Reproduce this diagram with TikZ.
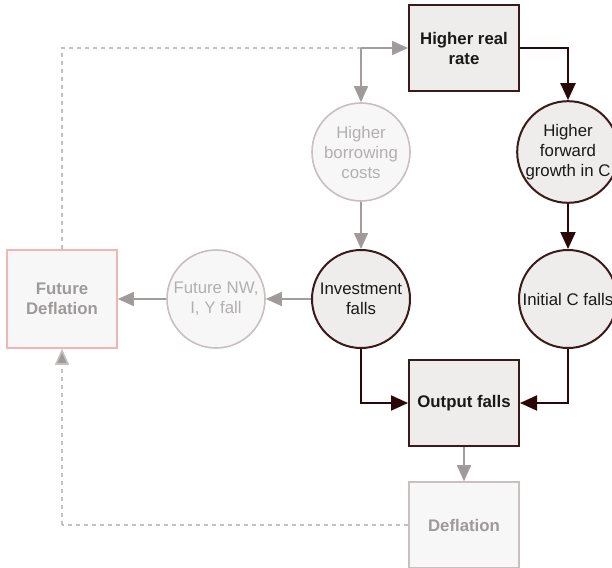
\documentclass[tikz,border=0pt]{standalone}
\usepackage{fontspec}
\setmainfont{Liberation Sans}
\usetikzlibrary{arrows.meta}

\definecolor{darkline}{HTML}{3A1A1A}
\definecolor{darkarrow}{HTML}{2A0808}
\definecolor{boxfill}{HTML}{EFEDEC}
\definecolor{palefill}{HTML}{F8F7F7}
\definecolor{paleline}{HTML}{C9BFBF}
\definecolor{paletext}{HTML}{B3AFAF}
\definecolor{grayarrow}{HTML}{A39C9C}
\definecolor{graytip}{HTML}{9E9A9A}
\definecolor{pinkline}{HTML}{F3B4B4}
\definecolor{dashgray}{HTML}{C4C0C0}

\tikzset{
  every node/.style={font=\fontsize{16.8}{20}\selectfont, align=center},
  keybox/.style={draw=darkline, line width=2pt, fill=boxfill, minimum width=110pt,
    minimum height=86pt, inner sep=0pt, font=\fontsize{16.8}{20}\selectfont\bfseries, text=black!90},
  keycirc/.style={circle, draw=darkline, line width=2pt, fill=boxfill, minimum size=98pt,
    inner sep=0pt, text=black!90},
  palecirc/.style={circle, draw=paleline, line width=1.6pt, fill=palefill, minimum size=98pt,
    inner sep=0pt, text=paletext},
  palebox/.style={draw=paleline, line width=1.6pt, fill=palefill, minimum width=110pt,
    minimum height=86pt, inner sep=0pt, font=\fontsize{16.8}{20}\selectfont\bfseries, text=graytip},
  darkflow/.style={draw=darkarrow, line width=2pt,
    -{Triangle[length=17pt,width=15pt]}},
  graytipstyle/.style={-{Triangle[length=16pt,width=14pt,fill=graytip]}},
  grayflow/.style={draw=grayarrow, line width=1.6pt, graytipstyle},
  feedback/.style={draw=dashgray, line width=1.6pt, dash pattern=on 4pt off 4pt},
}

\begin{document}
\begin{tikzpicture}[x=1pt, y=-1pt]
  \useasboundingbox (0,0) rectangle (612,567);

  % main chain
  \node[keybox] (rate) at (464,48) {Higher real\\rate};
  \node[keycirc] (fwd) at (568,152) {Higher\\forward\\growth in C};
  \node[keycirc] (initc) at (568,299) {Initial C falls};
  \node[keycirc] (invest) at (361,299) {Investment\\falls};
  \node[keybox] (output) at (464,403) {Output falls};

  % faded side effects
  \node[palecirc] (borrow) at (361,152) {Higher\\borrowing\\costs};
  \node[palecirc] (fnw) at (216,299) {Future NW,\\I, Y fall};
  \node[palebox, draw=pinkline, minimum height=98pt] (fdef) at (62,299) {Future\\Deflation};
  \node[palebox] (defl) at (464,525) {Deflation};

  \coordinate (split) at (361,48);
  \coordinate (lowcorner) at (62,525);

  % feedback loops (dashed)
  \draw[feedback] (fdef.north) |- (split);
  \draw[feedback] (defl.west) -- (lowcorner);
  \draw[feedback, graytipstyle] (lowcorner) -- (fdef.south);

  % faded arrows
  \draw[grayflow] (split) -- (rate.west);
  \draw[grayflow] (split) -- (borrow.north);
  \draw[grayflow] (borrow.south) -- (invest.north);
  \draw[grayflow] (invest.west) -- (fnw.east);
  \draw[grayflow] (fnw.west) -- (fdef.east);
  \draw[grayflow] (output.south) -- (defl.north);

  % main arrows
  \draw[darkflow] (rate.east) -| (fwd.north);
  \draw[darkflow] (fwd.south) -- (initc.north);
  \draw[darkflow] (invest.south) |- (output.west);
  \draw[darkflow] (initc.south) |- (output.east);
\end{tikzpicture}
\end{document}
